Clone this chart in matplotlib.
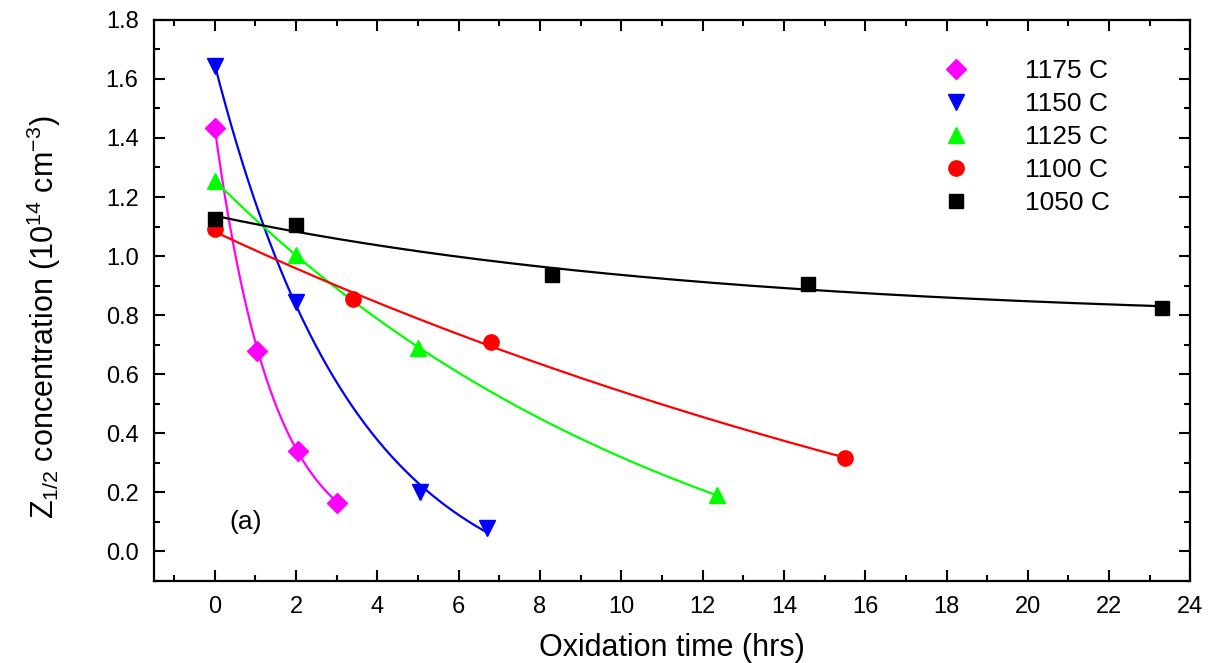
#!/usr/bin/env python3
import numpy as np
import matplotlib
matplotlib.use('Agg')
import matplotlib.pyplot as plt
from matplotlib.ticker import MultipleLocator

# values (x in hrs, y in 1e14 cm^-3)
labels = ['1175 C', '1150 C', '1125 C', '1100 C', '1050 C']

t_1175 = [0.0, 1.05, 2.05, 3.0]
z_1175 = [1.435, 0.68, 0.34, 0.165]

t_1150 = [0.0, 2.0, 5.05, 6.7]
z_1150 = [1.645, 0.845, 0.20, 0.08]

t_1125 = [0.0, 2.0, 5.0, 12.35]
z_1125 = [1.255, 1.005, 0.69, 0.19]

t_1100 = [0.0, 3.4, 6.8, 15.5]
z_1100 = [1.09, 0.855, 0.71, 0.315]

t_1050 = [0.0, 2.0, 8.3, 14.6, 23.3]
z_1050 = [1.125, 1.105, 0.935, 0.905, 0.825]

colors = ['#ff00ff', '#0000ff', '#00ff00', '#ff0000', '#000000']
markers = ['D', 'v', '^', 'o', 's']
msizes = [10, 12, 12, 11, 10]

plt.rcParams['font.family'] = ['Liberation Sans', 'DejaVu Sans']
plt.rcParams['mathtext.fontset'] = 'custom'
plt.rcParams['mathtext.rm'] = 'Liberation Sans'
plt.rcParams['mathtext.it'] = 'Liberation Sans'


def decay_fit(x, y):
    """fit y = a*exp(-k*x) + c, grid over k, least squares for a and c"""
    x = np.asarray(x, float)
    y = np.asarray(y, float)
    best = None
    for k in np.linspace(0.002, 2.0, 4000):
        A = np.column_stack([np.exp(-k * x), np.ones_like(x)])
        coef = np.linalg.lstsq(A, y, rcond=None)[0]
        err = np.sum((A @ coef - y) ** 2)
        if best is None or err < best[0]:
            best = (err, k, coef)
    _, k, (a, c) = best
    xs = np.linspace(x.min(), x.max(), 300)
    return xs, a * np.exp(-k * xs) + c


fig = plt.figure(figsize=(12.11, 6.63), dpi=100)
ax = fig.add_axes([0.127, 0.124, 0.856, 0.846])

series = [(t_1175, z_1175), (t_1150, z_1150), (t_1125, z_1125),
          (t_1100, z_1100), (t_1050, z_1050)]

for (t, z), lab, col, mk, ms in zip(series, labels, colors, markers, msizes):
    xs, ys = decay_fit(t, z)
    ax.plot(xs, ys, color=col, lw=1.6, zorder=2)
    ax.plot(t, z, ls='none', marker=mk, ms=ms, color=col,
            mec=col, label=lab, zorder=3)

ax.set_xlim(-1.5, 24)
ax.set_ylim(-0.1, 1.8)
ax.xaxis.set_major_locator(MultipleLocator(2))
ax.xaxis.set_minor_locator(MultipleLocator(1))
ax.yaxis.set_major_locator(MultipleLocator(0.2))
ax.yaxis.set_minor_locator(MultipleLocator(0.1))
ax.yaxis.set_major_formatter(plt.FuncFormatter(lambda v, p: f'{v:.1f}'))

ax.tick_params(which='both', direction='in', top=True, right=True,
               width=1.5, labelsize=17)
ax.tick_params(which='major', length=8)
ax.tick_params(which='minor', length=4)
ax.tick_params(axis='y', which='major', pad=11)
ax.tick_params(axis='x', which='major', pad=11)
for sp in ax.spines.values():
    sp.set_linewidth(1.6)

ax.set_xlabel('Oxidation time (hrs)', fontsize=22, labelpad=11)
ax.set_ylabel(r'Z$_{1/2}$ concentration (10$^{14}$ cm$^{-3}$)', fontsize=22)
ax.yaxis.set_label_coords(-0.088, 0.47)

ax.text(0.35, 0.10, '(a)', fontsize=19, va='center', ha='left')

ax.legend(loc='upper right', bbox_to_anchor=(0.922, 0.93), frameon=False,
          fontsize=19, handlelength=1.0, handletextpad=2.1,
          labelspacing=0.34, borderpad=0, borderaxespad=0)

fig.savefig('out.png', dpi=100)
